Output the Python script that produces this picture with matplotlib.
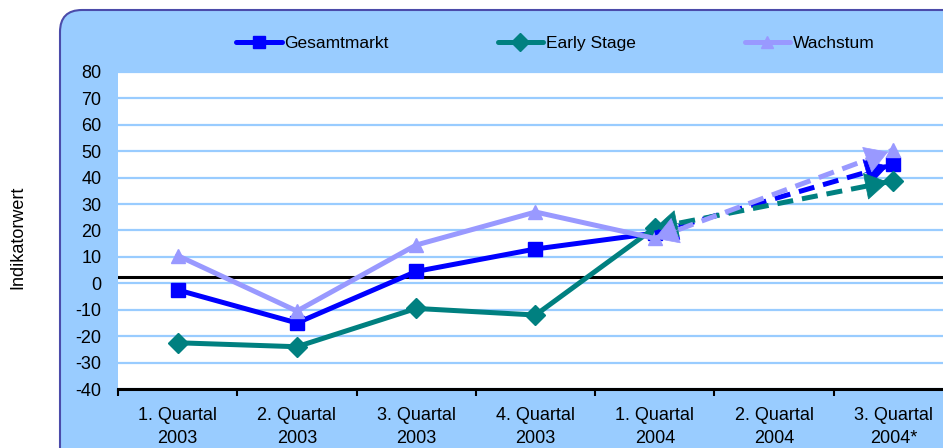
import matplotlib
matplotlib.use('Agg')
from matplotlib import pyplot as plt
from matplotlib.patches import FancyBboxPatch
from matplotlib.lines import Line2D
import numpy as np

plt.rcParams['font.family'] = ['Liberation Sans', 'DejaVu Sans']
plt.rcParams['axes.unicode_minus'] = False

#Data
quarters = ["1. Quartal\n2003", "2. Quartal\n2003", "3. Quartal\n2003", "4. Quartal\n2003",
            "1. Quartal\n2004", "2. Quartal\n2004", "3. Quartal\n2004*"]
gesamt = [-2.5, -15, 4.5, 13, 19, None, 45]
early = [-22.5, -24, -9.5, -12, 21, None, 38.8]
wachstum = [10.5, -10.5, 14.5, 27, 17, None, 50.5]
ref_level = 2.3

series = [("Gesamtmarkt", gesamt, '#0000FF', 's', 9.5),
          ("Early Stage", early, '#008080', 'D', 10),
          ("Wachstum", wachstum, '#9999FF', '^', 10)]

fig = plt.figure(figsize=(9.43, 4.48), dpi=100)

#rounded light blue frame, drawn in pixels
frame = FancyBboxPatch((60, -40), 920, 478, boxstyle="round,pad=0,rounding_size=22",
                       transform=None, facecolor='#99CCFF', edgecolor='#4B4BAA',
                       linewidth=1.5, zorder=-1)
fig.patches.append(frame)

ax = fig.add_axes([118/943, 1-389/448, 835/943, 317/448])
ax.set_zorder(1)
ax.set_facecolor('white')

x = np.arange(len(quarters))
last_real = 4

for name, vals, col, mk, ms in series:
    xs = x[:last_real+1]
    ys = vals[:last_real+1]
    ax.plot(xs, ys, color=col, lw=3.6, marker=mk, markersize=ms, zorder=3,
            solid_capstyle='round', solid_joinstyle='round')
    #forecast segment
    x0, y0 = x[last_real], vals[last_real]
    x1, y1 = x[-1], vals[-1]
    ax.plot([x0, x1], [y0, y1], color=col, lw=3.6, ls=(0, (3.2, 1.8)), zorder=4)
    ax.plot([x1], [y1], color=col, marker=mk, markersize=ms, ls='none', zorder=5)
    #arrow heads on both ends
    for (ax_, ay_), (bx_, by_), shr in [((x1, y1), (x0, y0), 0), ((x0, y0), (x1, y1), 4)]:
        tx = bx_ + (ax_ - bx_) * 0.12
        ty = by_ + (ay_ - by_) * 0.12
        ax.annotate('', xy=(bx_, by_), xytext=(tx, ty),
                    arrowprops=dict(arrowstyle='-|>,head_length=0.6,head_width=0.36',
                                    color=col, lw=0.5, mutation_scale=26,
                                    shrinkA=0, shrinkB=shr),
                    zorder=6)

ax.axhline(ref_level, color='black', lw=2.2, zorder=2)

ax.set_xlim(-0.5, len(quarters) - 0.5)
ax.set_ylim(-40, 80)
ax.set_yticks(np.arange(-40, 81, 10))
ax.yaxis.grid(True, color='#99CCFF', lw=1.6)
ax.set_axisbelow(True)
ax.tick_params(axis='y', length=0, labelsize=13, pad=12)

ax.set_xticks(np.arange(-0.5, len(quarters), 1.0))
ax.set_xticklabels([])
ax.set_xticks(x, minor=True)
ax.set_xticklabels(quarters, minor=True, linespacing=1.45)
ax.tick_params(axis='x', which='major', length=5, width=1.5, direction='out')
ax.tick_params(axis='x', which='minor', length=0, labelsize=13, pad=13)

for s in ['left', 'right', 'top']:
    ax.spines[s].set_visible(False)
ax.spines['bottom'].set_linewidth(2.2)

fig.text(0.019, 0.471, "Indikatorwert", rotation=90, ha='center', va='center', fontsize=13)

handles = [Line2D([], [], color=col, lw=3.6, marker=mk, markersize=ms * 0.9,
                  solid_capstyle='round')
           for name, vals, col, mk, ms in series]
fig.legend(handles, [s[0] for s in series], loc='center', bbox_to_anchor=(0.589, 0.902),
           ncol=3, frameon=False, fontsize=12.5, handlelength=2.6, handletextpad=0.15,
           columnspacing=6.3)

plt.savefig('out.png', dpi=100)
